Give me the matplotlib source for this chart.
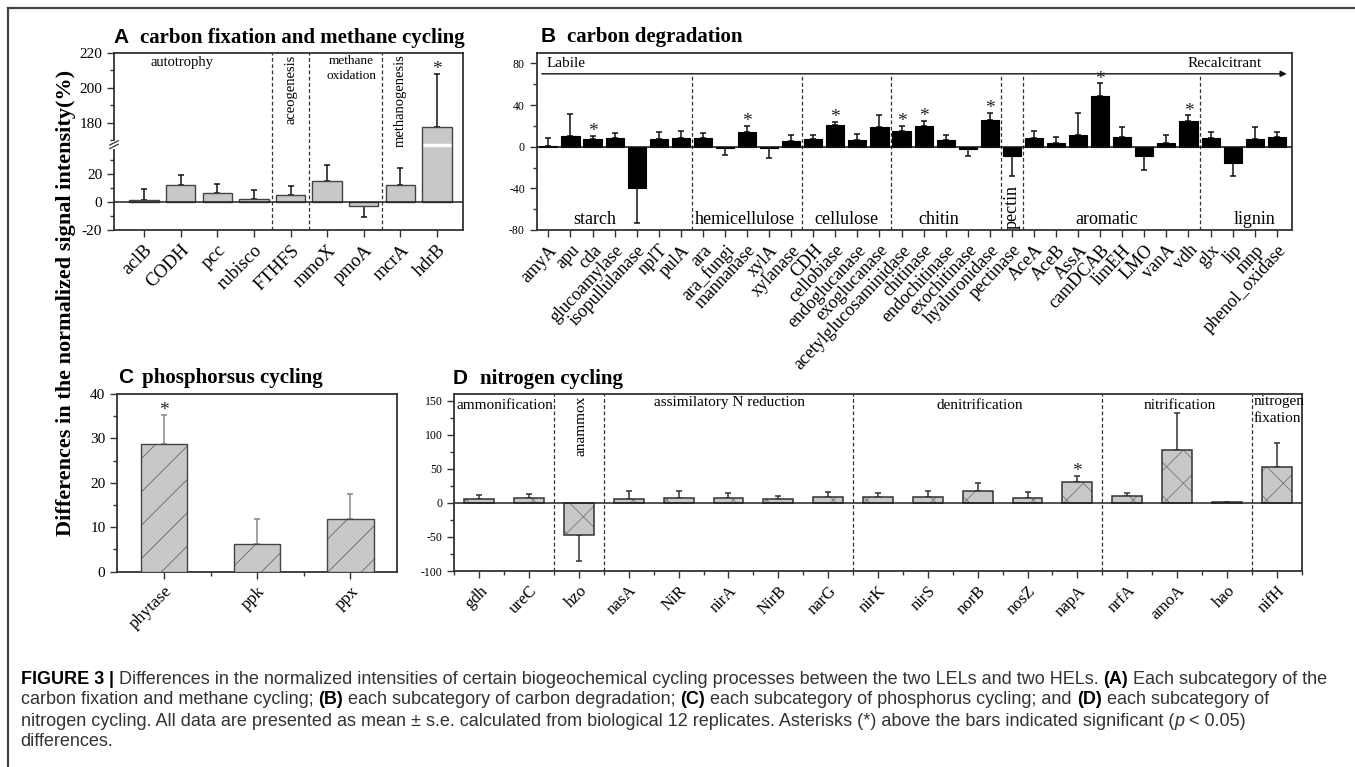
import numpy as np
import matplotlib
matplotlib.use('Agg')
import matplotlib.pyplot as plt
from matplotlib.ticker import FixedLocator, MultipleLocator
from matplotlib.lines import Line2D

W, H = 1355, 767
plt.rcParams['font.family'] = 'Liberation Serif'
plt.rcParams['hatch.linewidth'] = 0.6
plt.rcParams['axes.unicode_minus'] = False

# ---------------- data ----------------
# A: carbon fixation and methane cycling
a_genes = ['aclB', 'CODH', 'pcc', 'rubisco', 'FTHFS', 'mmoX', 'pmoA', 'mcrA', 'hdrB']
a_vals = [1.6, 12.0, 6.5, 2.3, 4.9, 14.9, -3.3, 12.3, 177.7]
a_se = [7.4, 6.8, 6.3, 5.8, 6.3, 11.6, 7.4, 12.1, 30.3]
a_sig = ['hdrB']

# B: carbon degradation
b_genes = ['amyA', 'apu', 'cda', 'glucoamylase', 'isopullulanase', 'nplT', 'pulA',
           'ara', 'ara_fungi', 'mannanase', 'xylA', 'xylanase',
           'CDH', 'cellobiase', 'endoglucanase', 'exoglucanase',
           'acetylglucosaminidase', 'chitinase', 'endochitinase', 'exochitinase', 'hyaluronidase',
           'pectinase',
           'AceA', 'AceB', 'AssA', 'camDCAB', 'limEH', 'LMO', 'vanA', 'vdh',
           'glx', 'lip', 'mnp', 'phenol_oxidase']
b_vals = [1.0, 10.2, 7.7, 8.0, -39.4, 7.7, 8.0,
          8.0, -1.0, 14.0, -1.0, 5.1,
          7.0, 20.5, 6.4, 18.6,
          15.0, 20.2, 6.4, -2.6, 26.0,
          -9.0,
          8.0, 3.2, 11.5, 48.3, 9.6, -9.3, 3.8, 25.0,
          8.0, -15.4, 7.0, 9.0]
b_se = [7.3, 20.8, 2.9, 5.4, 33.6, 6.1, 7.4,
        5.4, 7.0, 6.2, 9.9, 6.4,
        4.5, 3.5, 5.4, 12.1,
        4.8, 4.4, 5.1, 6.7, 6.3,
        18.8,
        7.0, 6.1, 20.5, 12.5, 9.6, 12.7, 7.1, 5.0,
        6.4, 12.4, 12.2, 5.0]
b_sig = ['cda', 'mannanase', 'cellobiase', 'acetylglucosaminidase', 'chitinase',
         'hyaluronidase', 'camDCAB', 'vdh']
b_groups = ['starch', 'hemicellulose', 'cellulose', 'chitin', 'pectin', 'aromatic', 'lignin']
b_group_x = [2.1, 8.9, 13.5, 17.7, 21.0, 25.3, 32.0]
b_breaks = [6.5, 11.5, 15.5, 20.5, 21.5, 29.5]

# C: phosphorus cycling
c_genes = ['phytase', 'ppk', 'ppx']
c_vals = [28.7, 6.3, 11.9]
c_se = [6.6, 5.5, 5.5]

# D: nitrogen cycling
d_genes = ['gdh', 'ureC', 'hzo', 'nasA', 'NiR', 'nirA', 'NirB', 'narG',
           'nirK', 'nirS', 'norB', 'nosZ', 'napA', 'nrfA', 'amoA', 'hao', 'nifH']
d_vals = [6.4, 7.9, -46.5, 5.9, 7.4, 7.4, 6.4, 8.9,
          9.4, 8.4, 17.8, 6.9, 31.2, 9.9, 77.2, 1.0, 53.0]
d_se = [5.0, 5.0, 38.5, 11.9, 9.4, 7.5, 3.5, 6.9,
        5.9, 8.9, 10.9, 8.9, 8.9, 5.0, 54.5, 1.0, 34.6]
d_sig = ['napA']
d_breaks = [1.5, 2.5, 7.5, 12.5, 15.5]

caption = [
    [("FIGURE 3", 'bold', 'normal'), (" | ", 'bold', 'normal'),
     ("Differences in the normalized intensities of certain biogeochemical cycling processes "
      "between the two LELs and two HELs. ", 'normal', 'normal'),
     ("(A)", 'bold', 'normal'), (" Each subcategory of the", 'normal', 'normal')],
    [("carbon fixation and methane cycling; ", 'normal', 'normal'), ("(B)", 'bold', 'normal'),
     (" each subcategory of carbon degradation; ", 'normal', 'normal'), ("(C)", 'bold', 'normal'),
     (" each subcategory of phosphorus cycling; and ", 'normal', 'normal'), ("(D)", 'bold', 'normal'),
     (" each subcategory of", 'normal', 'normal')],
    [("nitrogen cycling. All data are presented as mean \u00b1 s.e. calculated from biological 12 "
      "replicates. Asterisks (*) above the bars indicated significant (", 'normal', 'normal'),
     ("p", 'normal', 'italic'), (" < 0.05)", 'normal', 'normal')],
    [("differences.", 'normal', 'normal')],
]

EDGE = '#333333'


def px_axes(fig, x0, y0, x1, y1):
    return fig.add_axes([x0 / W, 1 - y1 / H, (x1 - x0) / W, (y1 - y0) / H])


def style(ax):
    for s in ax.spines.values():
        s.set_color(EDGE)
        s.set_linewidth(1.3)
    ax.tick_params(which='both', direction='out', color=EDGE, width=1, top=False, right=False)
    ax.tick_params(which='major', length=5)
    ax.tick_params(which='minor', length=3)


def errbars(ax, x, vals, se, color='#111111', capsize=2.5):
    vals = np.asarray(vals)
    se = np.asarray(se)
    lo = np.where(vals < 0, se, 0)
    hi = np.where(vals < 0, 0, se)
    ax.errorbar(x, vals, yerr=[lo, hi], fmt='none', ecolor=color, elinewidth=1.1,
                capsize=capsize, capthick=1.1, zorder=2)


def stars(ax, genes, vals, se, sig, size=14):
    for i, g in enumerate(genes):
        if g in sig:
            ax.annotate('*', (i, vals[i] + se[i]), xytext=(0, -3), textcoords='offset points',
                        ha='center', va='bottom', fontsize=size, color='#222222')


def title(fig, x_letter, x_text, y, letter, text):
    fig.text(x_letter / W, 1 - y / H, letter, family='Liberation Sans', weight='bold',
             fontsize=15, va='baseline')
    fig.text(x_text / W, 1 - y / H, text, weight='bold', fontsize=15, va='baseline')


fig = plt.figure(figsize=(W / 100, H / 100), dpi=100)

# frame around figure
fig.add_artist(Line2D([8 / W, 8 / W], [0, 1 - 8 / H], color='#444444', lw=1.6))
fig.add_artist(Line2D([8 / W, 1], [1 - 8 / H, 1 - 8 / H], color='#444444', lw=1.6))

# ---------------- panel A (broken y axis) ----------------
def a_fwd(y):
    y = np.asarray(y, float)
    return np.where(y <= 40, y, np.where(y < 168, 40 + (y - 40) * 0.01, 41.28 + (y - 168) * 1.24))


def a_inv(v):
    v = np.asarray(v, float)
    return np.where(v <= 40, v, np.where(v < 41.28, 40 + (v - 40) / 0.01, 168 + (v - 41.28) / 1.24))


axA = px_axes(fig, 114, 53, 463, 230)
style(axA)
axA.set_yscale('function', functions=(a_fwd, a_inv))
xa = np.arange(len(a_genes))
axA.bar(xa, a_vals, width=0.8, color='#c8c8c8', edgecolor='#444444', linewidth=1, zorder=3)
errbars(axA, xa, a_vals, a_se)
axA.hlines(104, 8 - 0.39, 8 + 0.39, color='white', lw=2.5, zorder=4)
axA.axhline(0, color='#222222', lw=1.1, zorder=4)
for xb in [3.5, 4.5, 6.5]:
    axA.axvline(xb, color='#333333', lw=0.9, ls=(0, (3, 2)))
axA.set_ylim(-20, 220)
axA.set_xlim(-0.82, 8.71)
axA.yaxis.set_major_locator(FixedLocator([-20, 0, 20, 180, 200, 220]))
axA.yaxis.set_minor_locator(FixedLocator([-10, 10, 30, 170, 190, 210]))
axA.set_yticklabels(['-20', '0', '20', '180', '200', '220'], fontsize=11)
axA.set_xticks(xa)
axA.set_xticklabels(a_genes, rotation=45, ha='right', rotation_mode='anchor', fontsize=13.5)
stars(axA, a_genes, a_vals, a_se, a_sig)
# break mark
f = 60.64 / 125.76
axA.plot([0, 0], [f - 0.012, f + 0.012], color='white', lw=3, transform=axA.transAxes,
         clip_on=False, zorder=5)
for d in (-0.01, 0.01):
    axA.plot([-0.012, 0.012], [f + d - 0.012, f + d + 0.012], color=EDGE, lw=0.9,
             transform=axA.transAxes, clip_on=False, zorder=6)
axA.text(1.04, 214.5, 'autotrophy', ha='center', va='center', fontsize=10.5)
axA.text(4.0, 219, 'aceogenesis', rotation=90, ha='center', va='top', fontsize=10.5)
axA.text(5.66, 219, 'methane\noxidation', ha='center', va='top', fontsize=9.5, linespacing=1.4)
axA.text(7.0, 219, 'methanogenesis', rotation=90, ha='center', va='top', fontsize=10.5)
title(fig, 113, 140, 43, 'A', 'carbon fixation and methane cycling')

# ---------------- panel B ----------------
axB = px_axes(fig, 536.7, 53, 1292, 230)
style(axB)
xb_ = np.arange(len(b_genes))
axB.bar(xb_, b_vals, width=0.82, color='black', edgecolor='black', linewidth=0.8, zorder=3)
errbars(axB, xb_, b_vals, b_se)
axB.axhline(0, color='#111111', lw=1.1, zorder=4)
axB.vlines(b_breaks, -80, 70, colors='#333333', lw=0.9, linestyles=(0, (3, 2)))
axB.annotate('', xy=(33.45, 70), xytext=(-0.3, 70),
             arrowprops=dict(arrowstyle='-|>', lw=1.0, color='#111111', mutation_scale=9,
                             shrinkA=0, shrinkB=0))
axB.text(-0.08, 79.5, 'Labile', ha='left', va='center', fontsize=11)
axB.text(32.3, 79.5, 'Recalcitrant', ha='right', va='center', fontsize=11)
for g, gx in zip(b_groups, b_group_x):
    if g == 'pectin':
        axB.text(gx, -57.5, g, rotation=90, ha='center', va='center', fontsize=13)
    else:
        axB.text(gx, -70, g, ha='center', va='center', fontsize=13)
axB.set_xlim(-0.53, 33.69)
axB.set_ylim(-80, 90)
axB.yaxis.set_major_locator(FixedLocator([-80, -40, 0, 40, 80]))
axB.yaxis.set_minor_locator(MultipleLocator(20))
axB.tick_params(axis='y', labelsize=8.5)
axB.set_xticks(xb_)
axB.set_xticklabels(b_genes, rotation=47, ha='right', rotation_mode='anchor', fontsize=13)
stars(axB, b_genes, b_vals, b_se, b_sig)
title(fig, 541, 567, 42, 'B', 'carbon degradation')

# ---------------- panel C ----------------
axC = px_axes(fig, 117.3, 394, 397, 571.7)
style(axC)
xc = np.arange(len(c_genes))
axC.bar(xc, c_vals, width=0.5, color='#c8c8c8', edgecolor='#666666', hatch='/', linewidth=0,
        zorder=3)
axC.bar(xc, c_vals, width=0.5, fill=False, edgecolor='#444444', linewidth=1, zorder=3)
errbars(axC, xc, c_vals, c_se, color='#888888', capsize=2)
axC.set_xlim(-0.5, 2.5)
axC.set_ylim(0, 40)
axC.yaxis.set_major_locator(MultipleLocator(10))
axC.yaxis.set_minor_locator(MultipleLocator(5))
axC.tick_params(axis='y', labelsize=11)
axC.set_xticks(xc)
axC.set_xticks([0.5, 1.5], minor=True)
axC.set_xticklabels(c_genes, rotation=45, ha='right', rotation_mode='anchor', fontsize=12.5)
stars(axC, c_genes, c_vals, c_se, ['phytase'])
title(fig, 118, 141.7, 383, 'C', 'phosphorsus cycling')

# ---------------- panel D ----------------
axD = px_axes(fig, 454.3, 394, 1301.7, 571)
style(axD)
xd = np.arange(len(d_genes))
axD.bar(xd, d_vals, width=0.6, color='#c8c8c8', edgecolor='#777777', hatch='x', linewidth=0,
        zorder=3)
axD.bar(xd, d_vals, width=0.6, fill=False, edgecolor='#333333', linewidth=1.1, zorder=3)
errbars(axD, xd, d_vals, d_se, color='#333333', capsize=2.5)
axD.axhline(0, color='#222222', lw=1.1, zorder=4)
for xbd in d_breaks:
    axD.axvline(xbd, color='#333333', lw=0.9, ls=(0, (3, 2)))
axD.set_xlim(-0.5, 16.5)
axD.set_ylim(-100, 160)
axD.yaxis.set_major_locator(MultipleLocator(50))
axD.yaxis.set_minor_locator(MultipleLocator(25))
axD.tick_params(axis='y', labelsize=8.5)
axD.set_xticks(xd)
axD.set_xticks(np.arange(-0.5, 17, 1), minor=True)
axD.set_xticklabels(d_genes, rotation=45, ha='right', rotation_mode='anchor', fontsize=12)
stars(axD, d_genes, d_vals, d_se, d_sig)
axD.text(0.52, 143, 'ammonification', ha='center', va='center', fontsize=11)
axD.text(2.05, 157, 'anammox', rotation=90, ha='center', va='top', fontsize=11)
axD.text(5.03, 147, 'assimilatory N reduction', ha='center', va='center', fontsize=11)
axD.text(10.05, 143, 'denitrification', ha='center', va='center', fontsize=11)
axD.text(14.06, 143, 'nitrification', ha='center', va='center', fontsize=11)
axD.text(15.53, 158, 'nitrogen\nfixation', ha='left', va='top', fontsize=11, linespacing=1.35)
title(fig, 453, 480, 384, 'D', 'nitrogen cycling')

# shared y label
fig.text(66 / W, 1 - 303 / H, 'Differences in the normalized signal intensity(%)',
         rotation=90, ha='center', va='center', weight='bold', fontsize=16)

# ---------------- caption ----------------
renderer = fig.canvas.get_renderer()
line_y = [679, 700, 721, 742]
for parts, ly in zip(caption, line_y):
    x = 20.7 / W
    for txt, wgt, sty in parts:
        t = fig.text(x, 1 - ly / H, txt, family='Liberation Sans', weight=wgt, style=sty,
                     fontsize=13, va='center', ha='left',
                     color='black' if wgt == 'bold' else '#333333')
        x += t.get_window_extent(renderer=renderer).width / fig.bbox.width

fig.savefig('out.png', dpi=100)
